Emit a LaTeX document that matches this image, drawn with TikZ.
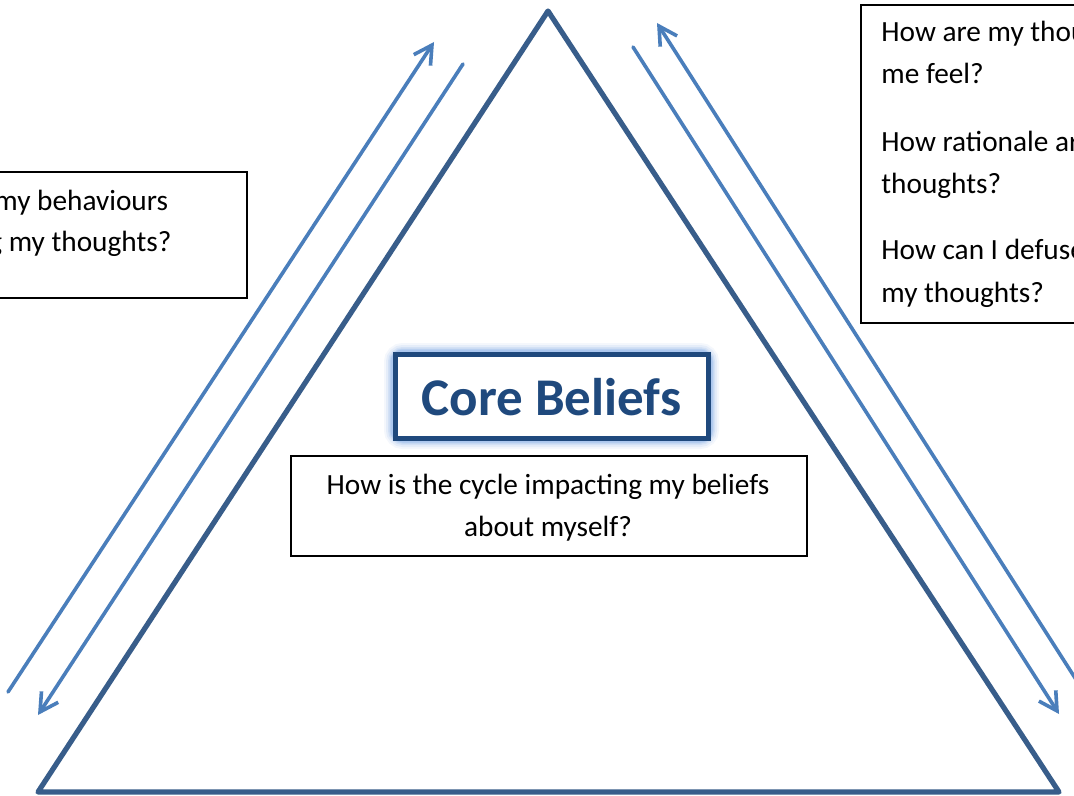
\documentclass[tikz,border=0pt]{standalone}
\usepackage{fontspec}
\setmainfont{Carlito}
\usetikzlibrary{arrows.meta,positioning}

\definecolor{triblue}{RGB}{56,93,138}
\definecolor{arrowblue}{RGB}{74,126,187}
\definecolor{coreblue}{RGB}{31,73,125}
\definecolor{glowblue}{RGB}{150,185,235}

\tikzset{
  qbox/.style={draw=black, line width=0.8pt},
  qtext/.style={anchor=base west, inner sep=0pt, font=\fontsize{14.65}{21}\selectfont},
  flow/.style={draw=arrowblue, line width=1.8pt, line cap=round,
    -{Straight Barb[length=9pt,width=10pt,line width=1.8pt]}},
}

\begin{document}
\begin{tikzpicture}[x=0.5pt,y=-0.5pt]
   \useasboundingbox (0,0) rectangle (1074,796);
   \clip (0,0) rectangle (1074,796);
   \fill[white] (0,0) rectangle (1074,796);

   % the cycle triangle
   \coordinate (top) at (548,11);
   \coordinate (bl)  at (38,792);
   \coordinate (br)  at (1059,792);
   \draw[triblue, line width=2.6pt, line join=round] (top) -- (bl) -- (br) -- cycle;

   % arrows along the two sides
   \coordinate (lu0) at (8,692);    \coordinate (lu1) at (434,42);
   \coordinate (ld0) at (463,64);   \coordinate (ld1) at (38,715);
   \coordinate (rd0) at (633,47);   \coordinate (rd1) at (1059,714);
   \coordinate (ru0) at (1084,692); \coordinate (ru1) at (657,23);
   \draw[flow] (lu0) -- (lu1);
   \draw[flow] (ld0) -- (ld1);
   \draw[flow] (rd0) -- (rd1);
   \draw[flow] (ru0) -- (ru1);

   % question boxes
   \node[qbox, anchor=north east, minimum width=200pt, minimum height=63pt] (behave) at (248,171) {};
   \node[qtext] (b1) at (-6,211) {my behaviours};
   \node[qtext] (b2) at (-12,252) {g my thoughts?};

   \node[qbox, anchor=north west, minimum width=200pt, minimum height=159pt] (feel) at (860,4) {};
   \node[qtext] (f1) at (881,42)  {How are my thou};
   \node[qtext] (f2) at (881,84)  {me feel?};
   \node[qtext] (f3) at (881,152) {How rationale ar};
   \node[qtext] (f4) at (881,194) {thoughts?};
   \node[qtext] (f5) at (881,260) {How can I defuse};
   \node[qtext] (f6) at (881,302) {my thoughts?};

   \node[qbox, anchor=north west, minimum width=258pt, minimum height=50pt] (cycle) at (290,455) {};
   \node[qtext, anchor=base] (c1) at (548,494) {How is the cycle impacting my beliefs};
   \node[qtext, anchor=base] (c2) at (548,536) {about myself?};

   % core beliefs box with soft glow
   \foreach \w/\o in {11/0.10,9/0.15,7/0.22,5.5/0.32,4.5/0.45}
     \draw[glowblue, line width=\w pt, opacity=\o, rounded corners=4pt] (395,354) rectangle (708,438);
   \node[draw=coreblue, line width=2.5pt, fill=white, minimum width=156.5pt, minimum height=42pt,
         inner sep=0pt] (core) at (551.5,396) {};
   \node[anchor=base, inner sep=0pt, text=coreblue, font=\fontsize{26.5}{30}\selectfont\bfseries]
         (coretext) at (551.5,415) {Core Beliefs};
\end{tikzpicture}
\end{document}
